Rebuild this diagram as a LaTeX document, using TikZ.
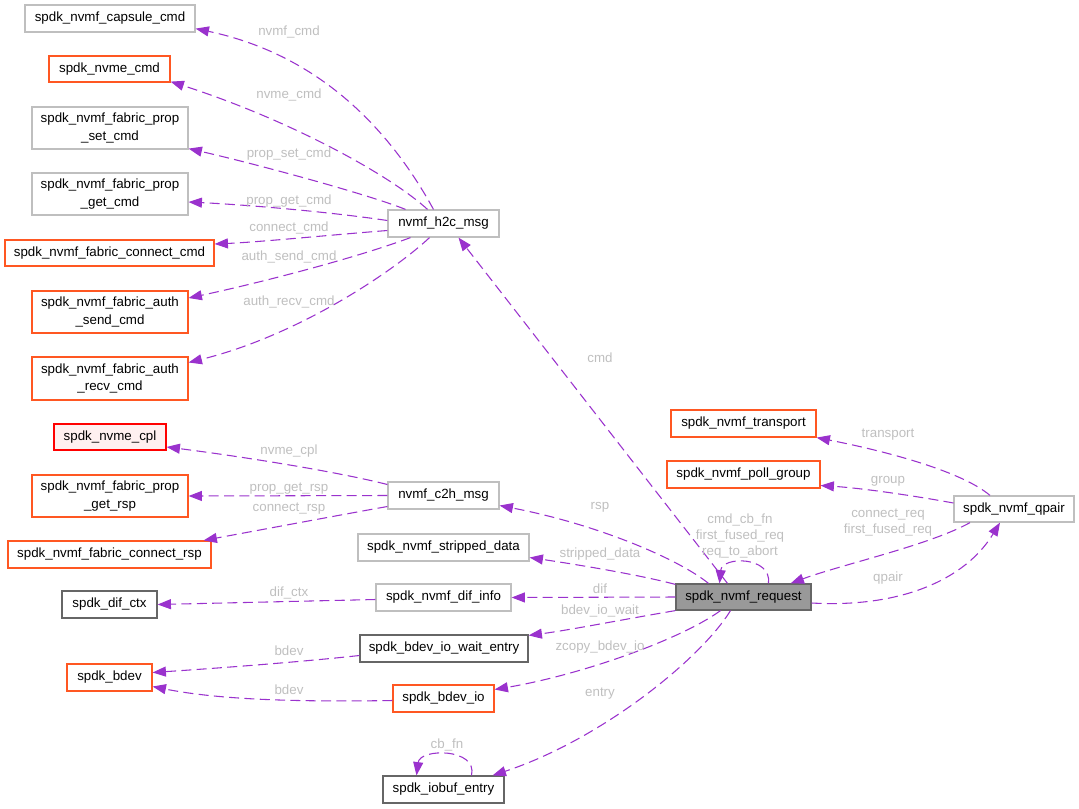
\documentclass[tikz,border=0pt]{standalone}
\usepackage{fontspec}
\setmainfont{Liberation Sans}
\usetikzlibrary{calc,arrows.meta}
\definecolor{edgec}{HTML}{9A32CD}
\definecolor{labc}{HTML}{BFBFBF}
\definecolor{lgray}{HTML}{BFBFBF}
\definecolor{dgray}{HTML}{666666}
\definecolor{orng}{HTML}{FF5722}
\definecolor{rootfill}{HTML}{999999}
\definecolor{pinkfill}{HTML}{FFF0F0}
\tikzset{
  box/.style={draw, rectangle, inner sep=0pt, line width=0.9pt, fill=white, align=center, font=\fontsize{10}{13}\selectfont, text=black},
  lbox/.style={box, draw=lgray},
  dbox/.style={box, draw=dgray},
  obox/.style={box, draw=orng},
  e/.style={draw=edgec, line width=0.8pt, dash pattern=on 7.5pt off 4pt, -{Triangle[length=10pt,width=7.5pt]}, fill=none},
  lab/.style={text=labc, font=\fontsize{10}{12}\selectfont, inner sep=0pt},
}
\begin{document}
\begin{tikzpicture}[x=0.75pt,y=-0.75pt]
\useasboundingbox (0,0) rectangle (1079,808);
% nodes
\node[lbox, minimum width=170*0.75pt, minimum height=27*0.75pt] (capsule) at (110,18.5) {spdk\_nvmf\_capsule\_cmd};
\node[obox, minimum width=121*0.75pt, minimum height=26*0.75pt] (nvmecmd) at (109.5,69) {spdk\_nvme\_cmd};
\node[lbox, minimum width=156*0.75pt, minimum height=42*0.75pt] (propset) at (110,128) {spdk\_nvmf\_fabric\_prop\\\_set\_cmd};
\node[lbox, minimum width=156*0.75pt, minimum height=42*0.75pt] (propget) at (110,194) {spdk\_nvmf\_fabric\_prop\\\_get\_cmd};
\node[obox, minimum width=209*0.75pt, minimum height=26*0.75pt] (connectcmd) at (109.5,253) {spdk\_nvmf\_fabric\_connect\_cmd};
\node[obox, minimum width=156*0.75pt, minimum height=42*0.75pt] (authsend) at (110,312) {spdk\_nvmf\_fabric\_auth\\\_send\_cmd};
\node[obox, minimum width=156*0.75pt, minimum height=43*0.75pt] (authrecv) at (110,378.5) {spdk\_nvmf\_fabric\_auth\\\_recv\_cmd};
\node[box, draw=red, fill=pinkfill, minimum width=112*0.75pt, minimum height=26*0.75pt] (nvmecpl) at (110,437) {spdk\_nvme\_cpl};
\node[obox, minimum width=156*0.75pt, minimum height=42*0.75pt] (propgetrsp) at (110,496) {spdk\_nvmf\_fabric\_prop\\\_get\_rsp};
\node[obox, minimum width=203*0.75pt, minimum height=27*0.75pt] (connectrsp) at (109.5,554.5) {spdk\_nvmf\_fabric\_connect\_rsp};
\node[dbox, minimum width=95*0.75pt, minimum height=27*0.75pt] (difctx) at (109.5,604.5) {spdk\_dif\_ctx};
\node[obox, minimum width=85*0.75pt, minimum height=27*0.75pt] (bdev) at (109.5,677.5) {spdk\_bdev};
\node[lbox, minimum width=111*0.75pt, minimum height=27*0.75pt] (h2c) at (443.5,223.5) {nvmf\_h2c\_msg};
\node[lbox, minimum width=111*0.75pt, minimum height=27*0.75pt] (c2h) at (443.5,495.5) {nvmf\_c2h\_msg};
\node[lbox, minimum width=171*0.75pt, minimum height=27*0.75pt] (stripped) at (443.5,547.5) {spdk\_nvmf\_stripped\_data};
\node[lbox, minimum width=135*0.75pt, minimum height=27*0.75pt] (difinfo) at (443.5,597.5) {spdk\_nvmf\_dif\_info};
\node[dbox, minimum width=168*0.75pt, minimum height=27*0.75pt] (waitentry) at (444,648.5) {spdk\_bdev\_io\_wait\_entry};
\node[obox, minimum width=101*0.75pt, minimum height=27*0.75pt] (bdevio) at (443.5,698.5) {spdk\_bdev\_io};
\node[dbox, minimum width=121*0.75pt, minimum height=27*0.75pt] (iobuf) at (443.5,789.5) {spdk\_iobuf\_entry};
\node[obox, minimum width=145*0.75pt, minimum height=27*0.75pt] (transport) at (743.5,423.5) {spdk\_nvmf\_transport};
\node[obox, minimum width=153*0.75pt, minimum height=27*0.75pt] (pollgroup) at (743.5,474.5) {spdk\_nvmf\_poll\_group};
\node[box, draw=dgray, fill=rootfill, minimum width=135*0.75pt, minimum height=26*0.75pt] (request) at (743.5,597) {spdk\_nvmf\_request};
\node[lbox, minimum width=120*0.75pt, minimum height=26*0.75pt] (qpair) at (1014,509) {spdk\_nvmf\_qpair};
% edges
\draw[e] ($(h2c.north)+(-10,0)$) .. controls (390,130) and (320,55) .. ($(capsule.south east)+(0,-4)$);
\draw[e] ($(h2c.north)+(-16,0)$) .. controls (390,175) and (290,120) .. ($(nvmecmd.south east)+(0,-1)$);
\draw[e] ($(h2c.north)+(-38,0)$) .. controls (370,195) and (260,165) .. ($(propset.south east)+(0,-1)$);
\draw[e] ($(h2c.west)+(0,-3)$) .. controls (330,212) and (250,205) .. ($(propget.east)+(0,8)$);
\draw[e] ($(h2c.west)+(0,7)$) .. controls (330,235) and (260,242) .. ($(connectcmd.east)+(0,-9)$);
\draw[e] ($(h2c.south)+(-33,0)$) .. controls (350,260) and (250,285) .. ($(authsend.east)+(0,-14)$);
\draw[e] ($(h2c.south)+(-14,0)$) .. controls (395,270) and (300,335) .. ($(authrecv.east)+(0,-16)$);
\draw[e] ($(c2h.west)+(0,-11)$) .. controls (330,470) and (230,455) .. ($(nvmecpl.east)+(0,10)$);
\draw[e] (c2h.west) -- (propgetrsp.east);
\draw[e] ($(c2h.west)+(0,11)$) .. controls (340,515) and (260,530) .. ($(connectrsp.north east)+(-8,0)$);
\draw[e] ($(request.north)+(-16,0)$) -- ($(h2c.south)+(15,0)$);
\draw[e] ($(request.north)+(-35,0)$) .. controls (680,560) and (600,525) .. ($(c2h.east)+(0,10)$);
\draw[e] ($(request.north west)+(0,1)$) .. controls (640,575) and (580,565) .. ($(stripped.east)+(0,10)$);
\draw[e] (request.west) -- (difinfo.east);
\draw[e] (request.south west) .. controls (620,620) and (570,630) .. ($(waitentry.north east)+(0,1)$);
\draw[e] ($(request.south)+(-23,0)$) .. controls (680,640) and (580,675) .. ($(bdevio.east)+(0,-9)$);
\draw[e] ($(request.south)+(-13,0)$) .. controls (700,660) and (600,740) .. ($(iobuf.north east)+(-12,0)$);
\draw[e] ($(request.north)+(25,0)$) .. controls (772,556) and (722,556) .. ($(request.north)+(-24,0)$);
\draw[e] ($(qpair.south)+(-44,0)$) .. controls (930,545) and (840,565) .. ($(request.north east)+(-21,0)$);
\draw[e] ($(request.east)+(0,6)$) .. controls (900,608) and (965,580) .. ($(qpair.south)+(-14,0)$);
\draw[e] ($(qpair.north)+(-24,0)$) .. controls (960,470) and (880,450) .. (transport.south east);
\draw[e] ($(qpair.west)+(0,-6)$) .. controls (910,495) and (860,488) .. ($(pollgroup.east)+(0,11)$);
\draw[e] ($(waitentry.west)+(0,7)$) .. controls (300,662) and (220,668) .. ($(bdev.east)+(0,-5)$);
\draw[e] ($(bdevio.west)+(0,2)$) .. controls (300,702) and (220,700) .. ($(bdev.east)+(0,9)$);
\draw[e] ($(iobuf.north)+(28,0)$) .. controls (478,748) and (420,748) .. ($(iobuf.north)+(-27,0)$);
\draw[e] ($(difinfo.west)+(0,2)$) -- (difctx.east);
% labels
\node[lab] (l1) at (289,32) {nvmf\_cmd};
\node[lab] (l2) at (289,95) {nvme\_cmd};
\node[lab] (l3) at (289,154) {prop\_set\_cmd};
\node[lab] (l4) at (289,201) {prop\_get\_cmd};
\node[lab] (l5) at (289,228) {connect\_cmd};
\node[lab] (l6) at (289,257) {auth\_send\_cmd};
\node[lab] (l7) at (289,302) {auth\_recv\_cmd};
\node[lab] (l8) at (289,451) {nvme\_cpl};
\node[lab] (l9) at (289,489) {prop\_get\_rsp};
\node[lab] (l10) at (289,509) {connect\_rsp};
\node[lab] (l11) at (600,358) {cmd};
\node[lab] (l12) at (600,507) {rsp};
\node[lab] (l13) at (600,554) {stripped\_data};
\node[lab] (l14) at (600,589) {dif};
\node[lab] (l15) at (600,611) {bdev\_io\_wait};
\node[lab] (l16) at (600,647) {zcopy\_bdev\_io};
\node[lab] (l17) at (600,694) {entry};
\node[lab] (l18) at (740,520) {cmd\_cb\_fn};
\node[lab] (l19) at (740,536) {first\_fused\_req};
\node[lab] (l20) at (740,552) {req\_to\_abort};
\node[lab] (l21) at (888,515) {connect\_req};
\node[lab] (l22) at (888,530) {first\_fused\_req};
\node[lab] (l23) at (888,578) {qpair};
\node[lab] (l24) at (888,435) {transport};
\node[lab] (l25) at (888,481) {group};
\node[lab] (l26) at (289,651) {bdev};
\node[lab] (l27) at (289,690) {bdev};
\node[lab] (l28) at (447,745) {cb\_fn};
\node[lab] (l29) at (289,593) {dif\_ctx};
\end{tikzpicture}
\end{document}
